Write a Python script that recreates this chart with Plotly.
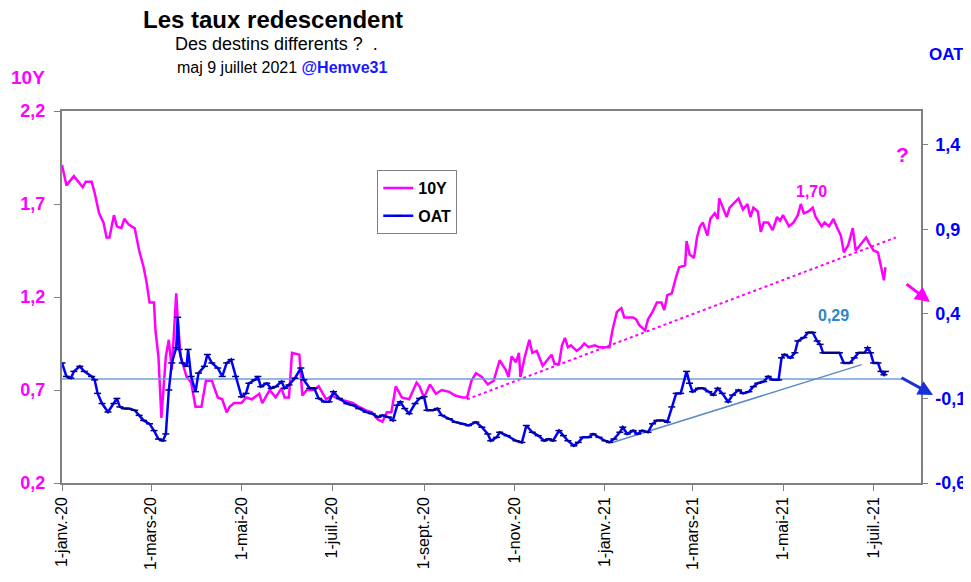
import plotly.graph_objects as go

# ---------------- DATA ----------------
dates_10y = [
    "2020-01-01", "2020-01-04", "2020-01-09", "2020-01-11", "2020-01-15", "2020-01-17", "2020-01-21", "2020-01-23", "2020-01-26", "2020-01-29",
    "2020-01-31", "2020-02-02", "2020-02-05", "2020-02-07", "2020-02-10", "2020-02-12", "2020-02-15", "2020-02-19", "2020-02-22", "2020-02-25",
    "2020-02-27", "2020-02-29", "2020-03-03", "2020-03-04", "2020-03-06", "2020-03-08", "2020-03-11", "2020-03-13", "2020-03-15", "2020-03-18",
    "2020-03-19", "2020-03-21", "2020-03-25", "2020-03-28", "2020-03-31", "2020-04-04", "2020-04-07", "2020-04-11", "2020-04-15", "2020-04-18",
    "2020-04-21", "2020-04-23", "2020-04-26", "2020-05-01", "2020-05-04", "2020-05-08", "2020-05-13", "2020-05-15", "2020-05-20", "2020-05-24",
    "2020-05-28", "2020-05-30", "2020-06-02", "2020-06-04", "2020-06-09", "2020-06-11", "2020-06-14", "2020-06-19", "2020-06-22", "2020-06-27",
    "2020-07-01", "2020-07-06", "2020-07-11", "2020-07-15", "2020-07-19", "2020-07-24", "2020-07-28", "2020-08-01", "2020-08-04", "2020-08-07",
    "2020-08-10", "2020-08-13", "2020-08-17", "2020-08-22", "2020-08-27", "2020-08-29", "2020-09-01", "2020-09-05", "2020-09-09", "2020-09-13",
    "2020-09-18", "2020-09-22", "2020-09-27", "2020-09-30", "2020-10-03", "2020-10-06", "2020-10-10", "2020-10-14", "2020-10-18", "2020-10-22",
    "2020-10-26", "2020-10-28", "2020-10-30", "2020-11-02", "2020-11-04", "2020-11-05", "2020-11-08", "2020-11-11", "2020-11-13", "2020-11-16",
    "2020-11-20", "2020-11-23", "2020-11-26", "2020-11-28", "2020-12-01", "2020-12-03", "2020-12-05", "2020-12-07", "2020-12-09", "2020-12-13",
    "2020-12-16", "2020-12-18", "2020-12-21", "2020-12-25", "2020-12-28", "2021-01-01", "2021-01-04", "2021-01-06", "2021-01-09", "2021-01-12",
    "2021-01-14", "2021-01-16", "2021-01-20", "2021-01-22", "2021-01-24", "2021-01-28", "2021-01-30", "2021-02-02", "2021-02-05", "2021-02-08",
    "2021-02-10", "2021-02-12", "2021-02-15", "2021-02-18", "2021-02-20", "2021-02-24", "2021-02-25", "2021-02-27", "2021-03-02", "2021-03-04",
    "2021-03-06", "2021-03-08", "2021-03-11", "2021-03-13", "2021-03-16", "2021-03-18", "2021-03-19", "2021-03-21", "2021-03-24", "2021-03-26",
    "2021-03-30", "2021-04-01", "2021-04-04", "2021-04-07", "2021-04-09", "2021-04-11", "2021-04-14", "2021-04-16", "2021-04-18", "2021-04-21",
    "2021-04-24", "2021-04-27", "2021-04-29", "2021-05-01", "2021-05-05", "2021-05-08", "2021-05-11", "2021-05-13", "2021-05-15", "2021-05-18",
    "2021-05-21", "2021-05-23", "2021-05-27", "2021-05-29", "2021-06-01", "2021-06-04", "2021-06-06", "2021-06-09", "2021-06-11", "2021-06-14",
    "2021-06-17", "2021-06-19", "2021-06-22", "2021-06-26", "2021-06-28", "2021-07-01", "2021-07-04", "2021-07-06", "2021-07-08", "2021-07-09",
]
values_10y = [
    1.91, 1.80, 1.85, 1.83, 1.79, 1.82, 1.82, 1.76, 1.65, 1.60,
    1.52, 1.52, 1.64, 1.58, 1.57, 1.62, 1.59, 1.57, 1.45, 1.36,
    1.28, 1.17, 1.17, 1.02, 0.88, 0.55, 0.88, 0.97, 0.81, 1.22,
    1.08, 0.88, 0.77, 0.74, 0.61, 0.61, 0.75, 0.75, 0.66, 0.65,
    0.58, 0.61, 0.63, 0.63, 0.66, 0.65, 0.68, 0.63, 0.70, 0.66,
    0.71, 0.66, 0.66, 0.90, 0.89, 0.67, 0.70, 0.70, 0.72, 0.65,
    0.67, 0.65, 0.64, 0.63, 0.61, 0.59, 0.58, 0.54, 0.53, 0.58,
    0.58, 0.72, 0.66, 0.65, 0.74, 0.72, 0.66, 0.73, 0.68, 0.70,
    0.69, 0.67, 0.66, 0.66, 0.75, 0.79, 0.77, 0.73, 0.75, 0.86,
    0.81, 0.77, 0.88, 0.85, 0.90, 0.77, 0.88, 0.97, 0.90, 0.91,
    0.83, 0.86, 0.89, 0.84, 0.84, 0.94, 0.98, 0.93, 0.94, 0.91,
    0.93, 0.95, 0.93, 0.94, 0.93, 0.93, 0.93, 1.02, 1.12, 1.14,
    1.09, 1.09, 1.09, 1.08, 1.05, 1.02, 1.08, 1.12, 1.17, 1.17,
    1.13, 1.21, 1.22, 1.31, 1.36, 1.37, 1.50, 1.43, 1.41, 1.52,
    1.58, 1.60, 1.53, 1.62, 1.65, 1.62, 1.73, 1.69, 1.63, 1.68,
    1.71, 1.73, 1.67, 1.70, 1.63, 1.68, 1.66, 1.55, 1.60, 1.60,
    1.56, 1.63, 1.61, 1.64, 1.58, 1.60, 1.64, 1.70, 1.65, 1.66,
    1.68, 1.63, 1.58, 1.60, 1.58, 1.62, 1.58, 1.53, 1.44, 1.48,
    1.57, 1.45, 1.48, 1.52, 1.49, 1.45, 1.44, 1.36, 1.29, 1.36,
]

dates_oat = [
    "2020-01-01", "2020-01-04", "2020-01-07", "2020-01-09", "2020-01-13", "2020-01-16", "2020-01-21", "2020-01-23", "2020-01-25", "2020-01-28",
    "2020-02-01", "2020-02-05", "2020-02-07", "2020-02-09", "2020-02-12", "2020-02-15", "2020-02-19", "2020-02-22", "2020-02-25", "2020-02-29",
    "2020-03-03", "2020-03-06", "2020-03-09", "2020-03-11", "2020-03-13", "2020-03-15", "2020-03-18", "2020-03-19", "2020-03-20", "2020-03-22",
    "2020-03-25", "2020-03-26", "2020-03-28", "2020-03-31", "2020-04-02", "2020-04-06", "2020-04-08", "2020-04-11", "2020-04-15", "2020-04-18",
    "2020-04-21", "2020-04-24", "2020-04-27", "2020-05-01", "2020-05-04", "2020-05-06", "2020-05-10", "2020-05-12", "2020-05-14", "2020-05-18",
    "2020-05-21", "2020-05-24", "2020-05-28", "2020-05-30", "2020-06-02", "2020-06-06", "2020-06-10", "2020-06-12", "2020-06-16", "2020-06-19",
    "2020-06-22", "2020-06-26", "2020-06-29", "2020-07-02", "2020-07-06", "2020-07-11", "2020-07-15", "2020-07-19", "2020-07-24", "2020-07-28",
    "2020-08-01", "2020-08-04", "2020-08-08", "2020-08-11", "2020-08-14", "2020-08-16", "2020-08-19", "2020-08-22", "2020-08-26", "2020-08-29",
    "2020-09-01", "2020-09-03", "2020-09-07", "2020-09-10", "2020-09-13", "2020-09-18", "2020-09-22", "2020-09-27", "2020-10-01", "2020-10-06",
    "2020-10-10", "2020-10-14", "2020-10-16", "2020-10-20", "2020-10-22", "2020-10-27", "2020-11-02", "2020-11-06", "2020-11-09", "2020-11-13",
    "2020-11-17", "2020-11-21", "2020-11-24", "2020-11-27", "2020-12-01", "2020-12-04", "2020-12-07", "2020-12-11", "2020-12-14", "2020-12-17",
    "2020-12-21", "2020-12-24", "2020-12-28", "2021-01-01", "2021-01-04", "2021-01-07", "2021-01-11", "2021-01-13", "2021-01-16", "2021-01-20",
    "2021-01-23", "2021-01-26", "2021-01-30", "2021-02-02", "2021-02-05", "2021-02-09", "2021-02-12", "2021-02-15", "2021-02-18", "2021-02-21",
    "2021-02-25", "2021-02-27", "2021-03-01", "2021-03-05", "2021-03-08", "2021-03-12", "2021-03-15", "2021-03-18", "2021-03-21", "2021-03-25",
    "2021-03-28", "2021-04-01", "2021-04-04", "2021-04-08", "2021-04-11", "2021-04-14", "2021-04-18", "2021-04-21", "2021-04-24", "2021-04-28",
    "2021-04-30", "2021-05-02", "2021-05-06", "2021-05-09", "2021-05-11", "2021-05-15", "2021-05-18", "2021-05-21", "2021-05-24", "2021-05-26",
    "2021-05-28", "2021-06-01", "2021-06-05", "2021-06-08", "2021-06-11", "2021-06-15", "2021-06-18", "2021-06-21", "2021-06-25", "2021-06-27",
    "2021-06-29", "2021-07-01", "2021-07-04", "2021-07-06", "2021-07-08", "2021-07-09",
]
values_oat = [
    0.11, 0.03, 0.02, 0.06, 0.09, 0.06, 0.03, 0.01, -0.07, -0.13,
    -0.18, -0.13, -0.10, -0.15, -0.16, -0.16, -0.17, -0.20, -0.23, -0.25,
    -0.29, -0.34, -0.35, -0.31, -0.05, 0.11, 0.20, 0.38, 0.19, 0.11,
    0.09, 0.19, 0.03, -0.06, 0.05, 0.09, 0.16, 0.11, 0.08, 0.03,
    0.11, 0.13, 0.03, -0.09, -0.07, -0.01, 0.01, 0.03, -0.03, -0.01,
    -0.04, -0.03, 0.00, -0.04, -0.02, 0.02, 0.08, 0.01, -0.04, -0.04,
    -0.10, -0.12, -0.12, -0.06, -0.10, -0.13, -0.14, -0.16, -0.18, -0.19,
    -0.21, -0.20, -0.21, -0.23, -0.14, -0.12, -0.16, -0.19, -0.13, -0.10,
    -0.09, -0.17, -0.17, -0.16, -0.20, -0.22, -0.24, -0.25, -0.26, -0.24,
    -0.27, -0.31, -0.35, -0.33, -0.30, -0.32, -0.35, -0.36, -0.26, -0.30,
    -0.32, -0.35, -0.34, -0.35, -0.29, -0.32, -0.35, -0.38, -0.36, -0.33,
    -0.33, -0.31, -0.33, -0.35, -0.36, -0.34, -0.30, -0.27, -0.31, -0.29,
    -0.31, -0.29, -0.30, -0.25, -0.23, -0.23, -0.24, -0.15, -0.07, -0.07,
    0.06, -0.01, -0.06, -0.04, -0.04, -0.06, -0.08, -0.04, -0.07, -0.12,
    -0.08, -0.05, -0.07, -0.06, -0.03, -0.01, 0.00, 0.03, 0.01, 0.01,
    0.14, 0.16, 0.14, 0.17, 0.24, 0.26, 0.29, 0.29, 0.24, 0.22,
    0.17, 0.17, 0.17, 0.17, 0.11, 0.11, 0.14, 0.17, 0.17, 0.20,
    0.17, 0.11, 0.11, 0.06, 0.04, 0.06,
]

# trend / reference lines
trend_10y_dates = ["2020-09-30", "2021-07-16"]
trend_10y_values = [0.65, 1.52]
trend_oat_dates = ["2021-01-06", "2021-06-23"]
trend_oat_values = [-0.36, 0.10]
level_oat_dates = ["2020-01-01", "2021-07-22"]
level_oat_values = [0.015, 0.015]

x_tick_vals = ["2020-01-01", "2020-03-01", "2020-05-01", "2020-07-01", "2020-09-01",
               "2020-11-01", "2021-01-01", "2021-03-01", "2021-05-01", "2021-07-01"]
x_tick_text = ["1-janv.-20", "1-mars-20", "1-mai-20", "1-juil.-20", "1-sept.-20",
               "1-nov.-20", "1-janv.-21", "1-mars-21", "1-mai-21", "1-juil.-21"]
y_left_vals = [0.2, 0.7, 1.2, 1.7, 2.2]
y_left_text = ["0,2", "0,7", "1,2", "1,7", "2,2"]
y_right_vals = [-0.6, -0.1, 0.4, 0.9, 1.4]
y_right_text = ["-0,6", "-0,1", "0,4", "0,9", "1,4"]

# ---------------- STYLE ----------------
FONT = "Liberation Sans, Arial, sans-serif"
MAGENTA = "#FF00FF"
BLUE = "#0000FF"
NAVY = "#000080"
AXIS = "#808080"
STEEL = "#6F9FD6"

fig = go.Figure()

fig.add_trace(go.Scatter(x=level_oat_dates, y=level_oat_values, yaxis="y2", mode="lines",
                         line=dict(color=STEEL, width=1.5), showlegend=False, hoverinfo="skip"))
fig.add_trace(go.Scatter(x=trend_oat_dates, y=trend_oat_values, yaxis="y2", mode="lines",
                         line=dict(color="#5B8CC8", width=1.5), showlegend=False, hoverinfo="skip"))
fig.add_trace(go.Scatter(x=trend_10y_dates, y=trend_10y_values, yaxis="y", mode="lines",
                         line=dict(color=MAGENTA, width=2, dash="dot"), showlegend=False, hoverinfo="skip"))

fig.add_trace(go.Scatter(x=dates_10y, y=values_10y, name="10Y", yaxis="y", mode="lines",
                         line=dict(color=MAGENTA, width=2.5), legendgroup="a"))
fig.add_trace(go.Scatter(x=dates_oat, y=values_oat, name="OAT", yaxis="y2", mode="lines+markers",
                         line=dict(color=BLUE, width=2.5),
                         marker=dict(symbol="line-ew", size=5, color=NAVY, line=dict(color=NAVY, width=1.5)),
                         legendgroup="b"))

annotations = [
    dict(text="<b>Les taux redescendent</b>", x=0.246, y=1.247, font=dict(size=24, color="black")),
    dict(text="Des destins differents ?  .", x=0.25, y=1.18, font=dict(size=18, color="black")),
    dict(text="maj 9 juillet 2021 <b><span style='color:#1a1aff'>@Hemve31</span></b>", x=0.256, y=1.1156,
         font=dict(size=16, color="black")),
    dict(text="<b>10Y</b>", x=-0.0396, y=1.089, font=dict(size=19, color=MAGENTA)),
    dict(text="<b>OAT</b>", x=1.030, y=1.151, font=dict(size=17, color=BLUE)),
    dict(text="<b>?</b>", x=0.979, y=0.882, font=dict(size=21, color=MAGENTA)),
]
for a in annotations:
    a.update(xref="paper", yref="paper", showarrow=False, xanchor="center", yanchor="middle")

annotations += [
    dict(text="<b>1,70</b>", x="2021-05-20", y=1.765, xref="x", yref="y", showarrow=False,
         font=dict(size=16, color=MAGENTA), xanchor="center", yanchor="middle"),
    dict(text="<b>0,29</b>", x="2021-06-04", y=0.393, xref="x", yref="y2", showarrow=False,
         font=dict(size=16, color="#2E86C8"), xanchor="center", yanchor="middle"),
    dict(text="", x=1.0105, y=0.4866, xref="paper", yref="paper", ax=-25, ay=-19,
         showarrow=True, arrowhead=2, arrowsize=1, arrowwidth=3, arrowcolor=MAGENTA),
    dict(text="", x=1.014, y=0.2366, xref="paper", yref="paper", ax=-33, ay=-18,
         showarrow=True, arrowhead=2, arrowsize=1, arrowwidth=3, arrowcolor="#1a2fd8"),
]

# the page body has an 8px margin: the figure is sized and offset to compensate
fig.update_layout(
    width=963, height=574, autosize=False,
    margin=dict(l=54, r=50, t=103, b=99),
    paper_bgcolor="white", plot_bgcolor="white",
    font=dict(family=FONT, color="black"),
    showlegend=True,
    legend=dict(x=0.367, y=0.841, xanchor="left", yanchor="top",
                bordercolor=AXIS, borderwidth=1, bgcolor="white",
                font=dict(size=16, color="black", family=FONT, weight="bold"),
                tracegroupgap=4, traceorder="grouped"),
    xaxis=dict(type="date", range=["2020-01-01", "2021-08-02"],
               tickmode="array", tickvals=x_tick_vals, ticktext=x_tick_text,
               tickangle=-90, tickfont=dict(size=16, color="black", family=FONT),
               ticks="outside", ticklen=6, tickcolor=AXIS, tickwidth=1, ticklabelstandoff=0,
               showline=True, linecolor=AXIS, linewidth=1.5, mirror=True,
               showgrid=False, zeroline=False, automargin=False),
    yaxis=dict(range=[0.2, 2.2], tickmode="array", tickvals=y_left_vals, ticktext=y_left_text,
               tickfont=dict(size=18, color=MAGENTA, family=FONT, weight="bold"),
               ticks="outside", ticklen=6, tickcolor=AXIS, ticklabelstandoff=5,
               showline=True, linecolor=AXIS, linewidth=2,
               showgrid=False, zeroline=False, automargin=False),
    yaxis2=dict(range=[-0.6, 1.6], overlaying="y", side="right",
                tickmode="array", tickvals=y_right_vals, ticktext=y_right_text,
                tickfont=dict(size=18, color=BLUE, family=FONT, weight="bold"),
                ticks="outside", ticklen=5, tickcolor=AXIS, ticklabelstandoff=4,
                showline=True, linecolor=AXIS, linewidth=1.5,
                showgrid=False, zeroline=False, automargin=False),
    annotations=annotations,
)

fig.write_html("out.html")
